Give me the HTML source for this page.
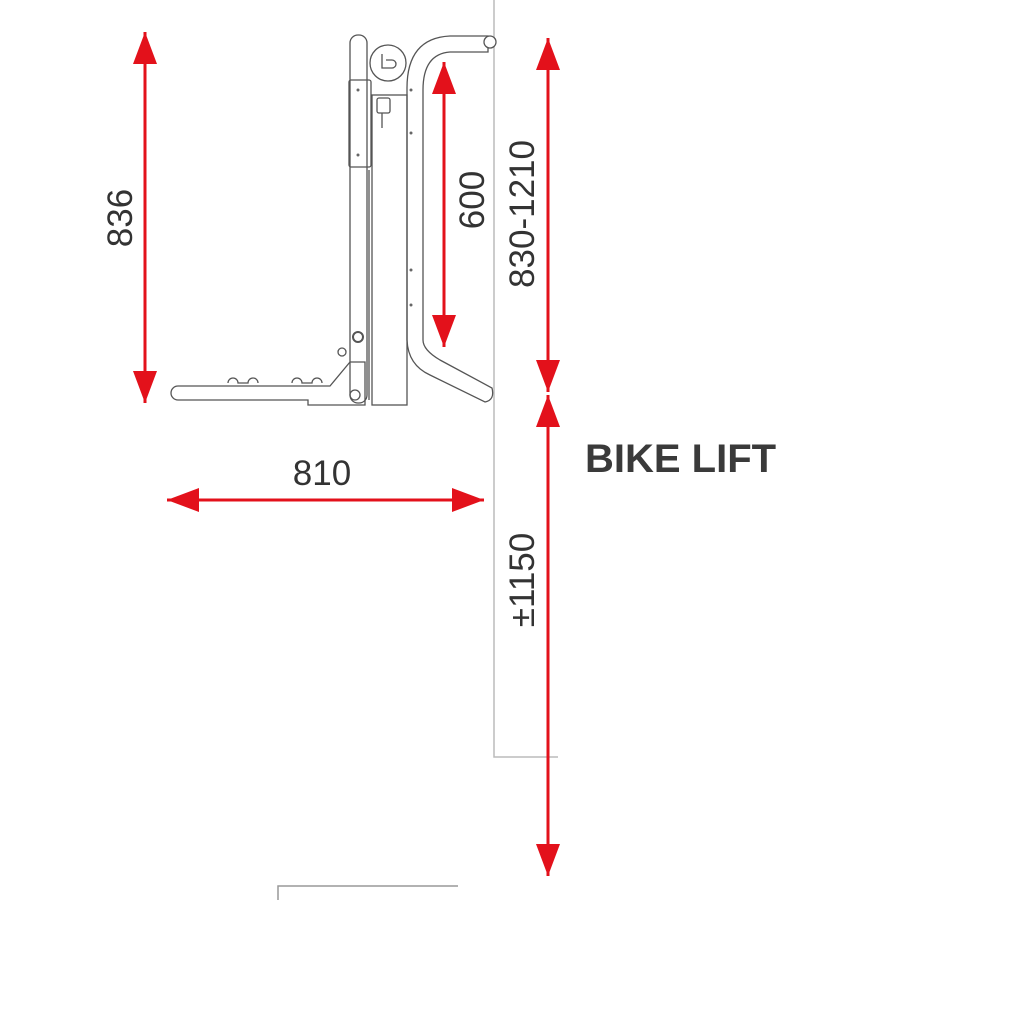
<!DOCTYPE html>
<html><head><meta charset="utf-8"><style>
html,body{margin:0;padding:0;background:#fff;}
svg{display:block}
text{font-family:"Liberation Sans",sans-serif;}
</style></head><body>
<svg width="1024" height="1024" viewBox="0 0 1024 1024" xmlns="http://www.w3.org/2000/svg">
<defs>
<marker id="a" viewBox="0 0 32 24" refX="32" refY="12" markerWidth="32" markerHeight="24" markerUnits="userSpaceOnUse" orient="auto-start-reverse"><path d="M0,0 L32,12 L0,24 z" fill="#e3111b"/></marker>
</defs>
<g fill="none" stroke="#555" stroke-width="1.3">
<!-- wall -->
<path d="M494,0 V757 H558" stroke="#bbb" stroke-width="1.5"/>
<path d="M278,900 V886 H458" stroke="#999" stroke-width="1.5"/>
<!-- left pole -->
<rect x="350" y="35" width="17" height="368" rx="8"/>
<rect x="349" y="80" width="22" height="87" rx="2"/>
<!-- central column -->
<rect x="372" y="95" width="35" height="310"/>
<line x1="369" y1="170" x2="369" y2="400"/>
<!-- motor -->
<circle cx="388" cy="63" r="18" fill="#fff"/>
<path d="M382,54 v14 h10 a4,4 0 0 0 0,-8 h-6"/>
<rect x="377" y="98" width="13" height="15" rx="2"/>
<line x1="382" y1="113" x2="382" y2="128"/>
<!-- right pipe -->
<path d="M407,340 V88 Q407,38 450,36 H488 V52 H450 Q423,54 423,90 V340"/>
<circle cx="490" cy="42" r="6" fill="#fff"/>
<path d="M407,340 Q408,365 430,375 L485,402 Q495,400 492,388 L440,360 Q423,350 423,340"/>
<!-- base arm -->
<path d="M178,386 H330 L350,362 H365 V405 H308 V400 H178 a7,7 0 0 1 0,-14 z"/>
<circle cx="358" cy="337" r="5" stroke-width="2"/>
<path d="M228,383 a5,5 0 1 1 10,0 h10 a5,5 0 1 1 10,0"/>
<path d="M292,383 a5,5 0 1 1 10,0 h10 a5,5 0 1 1 10,0"/>
<circle cx="355" cy="395" r="5"/>
<circle cx="342" cy="352" r="4"/>
</g>
<g fill="#666">
<circle cx="358" cy="90" r="1.5"/><circle cx="358" cy="155" r="1.5"/>
<circle cx="411" cy="90" r="1.5"/><circle cx="411" cy="133" r="1.5"/>
<circle cx="411" cy="270" r="1.5"/><circle cx="411" cy="305" r="1.5"/>
</g>
<!-- red dimension arrows -->
<g stroke="#e3111b" stroke-width="3" fill="none">
<line x1="145" y1="32" x2="145" y2="403" marker-start="url(#a)" marker-end="url(#a)"/>
<line x1="444" y1="62" x2="444" y2="347" marker-start="url(#a)" marker-end="url(#a)"/>
<line x1="548" y1="38" x2="548" y2="392" marker-start="url(#a)" marker-end="url(#a)"/>
<line x1="548" y1="395" x2="548" y2="876" marker-start="url(#a)" marker-end="url(#a)"/>
<line x1="167" y1="500" x2="484" y2="500" marker-start="url(#a)" marker-end="url(#a)"/>
</g>
<g fill="#333" font-size="35">
<text transform="translate(132,218) rotate(-90)" text-anchor="middle">836</text>
<text transform="translate(484,200) rotate(-90)" text-anchor="middle">600</text>
<text transform="translate(534,214) rotate(-90)" text-anchor="middle">830-1210</text>
<text transform="translate(534,580) rotate(-90)" text-anchor="middle">±1150</text>
<text x="322" y="485" text-anchor="middle">810</text>
</g>
<text x="585" y="472" font-size="40" font-weight="bold" fill="#3a3a3a">BIKE LIFT</text>
</svg>
</body></html>
